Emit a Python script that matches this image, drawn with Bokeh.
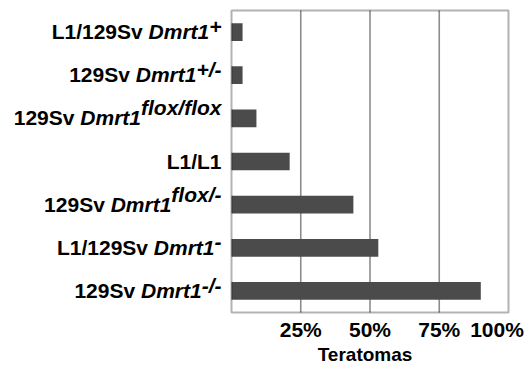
from bokeh.plotting import figure
from bokeh.models import ColumnDataSource, Range1d, BoxAnnotation
from bokeh.core.properties import value
from bokeh.embed import file_html
from bokeh.resources import INLINE

# ---- data ----
categories = ["L1/129Sv Dmrt1+", "129Sv Dmrt1+/-", "129Sv Dmrt1flox/flox", "L1/L1",
              "129Sv Dmrt1flox/-", "L1/129Sv Dmrt1-", "129Sv Dmrt1-/-"]
strains = ["L1/129Sv", "129Sv", "129Sv", "L1/L1", "129Sv", "L1/129Sv", "129Sv"]
genes = ["Dmrt1", "Dmrt1", "Dmrt1", "", "Dmrt1", "Dmrt1", "Dmrt1"]
genotypes = ["+", "+/-", "flox/flox", "", "flox/-", "-", "-/-"]
teratoma_pct = [4, 4, 9, 21, 44, 53, 90]
tick_values = [25, 50, 75, 100]
tick_labels = ["25%", "50%", "75%", "100%"]
grid_values = [25, 50, 75]
x_title = "Teratomas"

# ---- style / layout (pixels) ----
FONT = value("Liberation Sans")
FS = 21
FS_PX = value(f"{FS}px")
BAR_COLOR = "#4b4b4b"
GAP = 10           # px between row labels and box
TEXT_DY = -8       # correction for the renderer's baseline placement
BASE_DROP = 7.5 + TEXT_DY   # row-label baseline below bar centre
WIDTH, HEIGHT = 527, 364
BOX_L, BOX_R, BOX_T, BOX_B = 231, 508, 10, 312   # axes box on the canvas
X_MIN, X_MAX = 0, 100

n = len(categories)
ppx = (BOX_R - BOX_L) / (X_MAX - X_MIN)          # px per x unit
ppy = (BOX_B - BOX_T) / n                        # px per category
y_lo, y_hi = -0.5, n - 0.5
x_range = Range1d(X_MIN - BOX_L / ppx, X_MAX + (WIDTH - BOX_R) / ppx)
y_range = Range1d(y_lo - (HEIGHT - BOX_B) / ppy, y_hi + BOX_T / ppy)

# Arial/Liberation Sans Bold advance widths (1/1000 em)
W = {' ': 278, '/': 278, '-': 333, '+': 584, 'L': 611, 'S': 667, 'v': 556,
     'D': 722, 'm': 889, 'r': 389, 't': 333, 'f': 333, 'l': 278, 'o': 611, 'x': 556}
for d in "0123456789":
    W[d] = 556


def tw(s):
    return sum(W[c] for c in s) * FS / 1000.0


ypos = list(range(n - 1, -1, -1))   # first category on top

p = figure(width=WIDTH, height=HEIGHT, x_range=x_range, y_range=y_range,
           title=None, x_axis_location=None, y_axis_location=None,
           output_backend="svg", toolbar_location=None,
           min_border=0)
p.background_fill_color = "white"
p.border_fill_color = "white"
p.outline_line_color = None
p.grid.visible = False

# vertical grid lines inside the box
p.segment(x0=grid_values, x1=grid_values, y0=y_lo, y1=y_hi,
          line_color="#8c8c8c", line_width=1.6)

# bars
src = ColumnDataSource(dict(y=ypos, pct=teratoma_pct))
p.hbar(y="y", left=X_MIN, right="pct", height=0.41, source=src,
       fill_color=BAR_COLOR, line_color=None)

# axes box
p.add_layout(BoxAnnotation(left=X_MIN, right=X_MAX, bottom=y_lo, top=y_hi,
                           fill_color=None, line_color="black", line_width=2))

# row labels: strain (bold) + gene (bold italic) + genotype superscript (bold italic)
rows = dict(y=[], strain=[], gene=[], gt=[], sdx=[], gdx=[], pdx=[], sdy=[])
for yy, s, g, gt in zip(ypos, strains, genes, genotypes):
    sdx = -GAP
    gdx = sdx - tw(gt)
    pdx = gdx - tw(g) - (tw(" ") if g else 0)
    raise_px = 10 if any(c.isalpha() for c in gt) else 5
    rows["y"].append(yy)
    rows["strain"].append(s)
    rows["gene"].append(g)
    rows["gt"].append(gt)
    rows["sdx"].append(sdx)
    rows["gdx"].append(gdx)
    rows["pdx"].append(pdx)
    rows["sdy"].append(BASE_DROP - raise_px)
rsrc = ColumnDataSource(rows)

common = dict(x=X_MIN, y="y", source=rsrc, text_font=FONT, text_font_size=FS_PX,
              text_align="right", text_baseline="alphabetic", text_color="black")
p.text(text="strain", x_offset="pdx", y_offset=BASE_DROP, text_font_style="bold", **common)
p.text(text="gene", x_offset="gdx", y_offset=BASE_DROP, text_font_style="bold italic", **common)
p.text(text="gt", x_offset="sdx", y_offset="sdy", text_font_style="bold italic", **common)

# x tick labels
tick_dx = [0, 0, 0, -11.5]
tsrc = ColumnDataSource(dict(x=tick_values, text=tick_labels, dx=tick_dx))
p.text(x="x", y=y_lo, text="text", source=tsrc, x_offset="dx", y_offset=24.7 + TEXT_DY,
       text_font=FONT, text_font_size=FS_PX, text_font_style="bold",
       text_align="center", text_baseline="alphabetic", text_color="black")

# axis title
p.text(x=[(X_MIN + X_MAX) / 2], y=[y_lo], text=[x_title], x_offset=-5, y_offset=49.5 + TEXT_DY,
       text_font=FONT, text_font_size=value("19px"), text_font_style="bold",
       text_align="center", text_baseline="alphabetic", text_color="black")

open("out.html", "w").write(file_html(p, INLINE))
